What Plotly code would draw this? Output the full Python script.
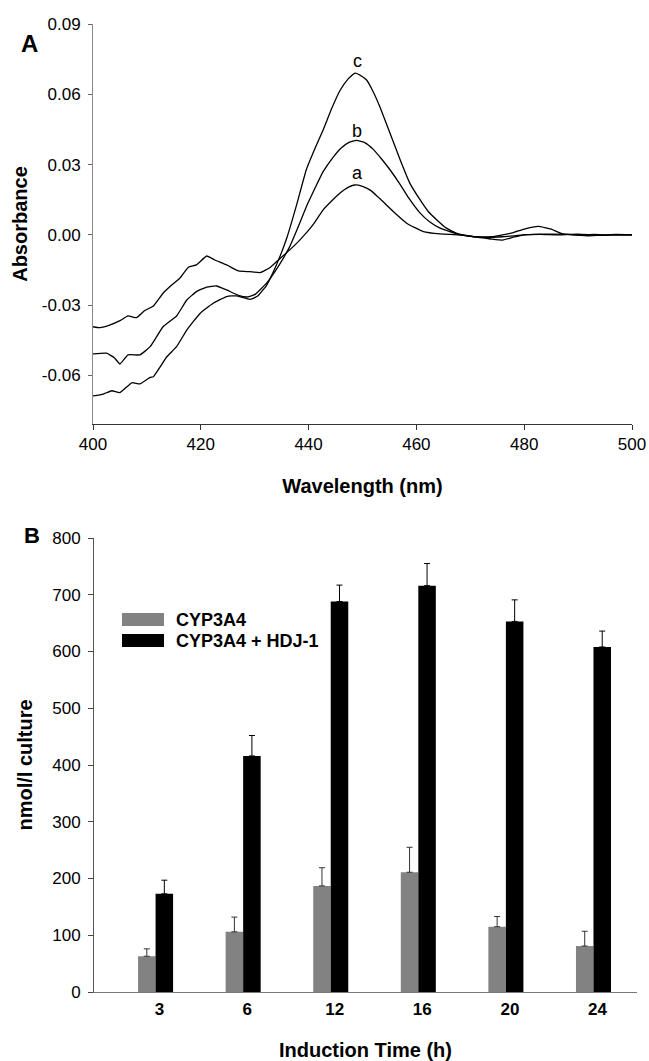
import plotly.graph_objects as go

# ---------------- Panel A data (difference spectra) ----------------
wl_a = [400, 401.3, 403.2, 405, 406.5, 408.1, 409.6, 411.2, 413, 414.6, 416.1, 417.7, 419.2,
        421.1, 422.6, 424.8, 427, 429.1, 431, 432.8, 434.5, 436.5, 438.4, 440.8, 442.7, 444.5,
        446, 447.5, 448.6, 450, 451.5, 453.2, 455.7, 458.2, 461.3, 464.4, 468, 471.5, 474, 476,
        478, 480, 483, 486, 490, 494, 497, 500]
abs_a = [-0.0392, -0.0396, -0.0384, -0.0366, -0.0346, -0.0353, -0.0323, -0.0303, -0.0249, -0.0214,
         -0.0185, -0.0138, -0.0128, -0.0090, -0.0107, -0.0128, -0.0154, -0.0157, -0.0161, -0.0140,
         -0.0105, -0.0064, -0.0021, 0.0043, 0.0107, 0.0150, 0.0182, 0.0205, 0.0213, 0.0207,
         0.0190, 0.0155, 0.0100, 0.0050, 0.0014, 0.0004, 0.0000, -0.0010, -0.0018, -0.0022,
         -0.0010, 0.0000, 0.0002, 0.0000, 0.0003, -0.0002, 0.0002, 0.0000]

wl_b = [400, 402.5, 404, 405, 406.5, 408.7, 410.6, 413, 415.5, 417.4, 419.2, 421.1, 422.9, 424.8,
        427, 428.5, 430, 432.2, 434.5, 436.5, 438, 439.6, 441.2, 442.7, 444.5, 446, 447.5, 448.9,
        450.5, 452, 453.5, 455.1, 457, 458.5, 460.7, 462.5, 464.4, 468.1, 472, 476, 480, 484,
        488, 492, 496, 500]
abs_b = [-0.0508, -0.0505, -0.0525, -0.0551, -0.0512, -0.0512, -0.0477, -0.0392, -0.0346, -0.0278,
         -0.0242, -0.0223, -0.0218, -0.0235, -0.0258, -0.0265, -0.0255, -0.0206, -0.0130, -0.0050,
         0.0030, 0.0121, 0.0200, 0.0270, 0.0330, 0.0370, 0.0395, 0.0403, 0.0393, 0.0365, 0.0325,
         0.0278, 0.0215, 0.0160, 0.0093, 0.0055, 0.0029, 0.0000, -0.0010, -0.0008, 0.0000,
         0.0003, 0.0002, -0.0004, 0.0001, 0.0000]

wl_c = [400, 401.9, 403.5, 405, 407.2, 408.7, 410.6, 411.2, 413.7, 415.5, 417.4, 419.9, 422.3,
        424.8, 426.7, 429.1, 430.5, 432.2, 434, 436, 437.8, 439.6, 441.2, 442.7, 444.3, 445.8,
        447.3, 448.6, 450, 450.8, 452, 453.2, 455, 457, 458.8, 460.7, 462.2, 463.8, 465.5, 467.5,
        470.5, 474, 476, 478, 480, 482.6, 485, 487, 490, 493, 496, 500]
abs_c = [-0.0687, -0.0679, -0.0665, -0.0673, -0.0631, -0.0636, -0.0608, -0.0605, -0.0520, -0.0477,
         -0.0406, -0.0334, -0.0292, -0.0263, -0.0260, -0.0275, -0.0262, -0.0215, -0.0130, -0.0010,
         0.0130, 0.0280, 0.0370, 0.0448, 0.0540, 0.0615, 0.0665, 0.0690, 0.0675, 0.0660, 0.0610,
         0.0548, 0.0440, 0.0320, 0.0220, 0.0149, 0.0100, 0.0064, 0.0030, 0.0007, -0.0007,
         -0.0008, 0.0000, 0.0010, 0.0025, 0.0036, 0.0025, 0.0005, 0.0000, 0.0002, -0.0001, 0.0000]

curve_labels = ["a", "b", "c"]
label_wl = [449, 449, 449]
label_abs = [0.0265, 0.0445, 0.0740]

a_ticks = [-0.06, -0.03, 0.00, 0.03, 0.06, 0.09]
a_ticktext = ["-0.06", "-0.03", "0.00", "0.03", "0.06", "0.09"]
a_xticks = [400, 420, 440, 460, 480, 500]

# ---------------- Panel B data (bars) ----------------
induction_time = ["3", "6", "12", "16", "20", "24"]
cyp3a4 = [63, 106, 187, 211, 115, 81]
cyp3a4_err = [13, 26, 32, 44, 18, 26]
cyp3a4_hdj = [173, 416, 688, 716, 653, 608]
cyp3a4_hdj_err = [24, 36, 29, 39, 38, 28]
legend_names = ["CYP3A4", "CYP3A4 + HDJ-1"]
b_ticks = [0, 100, 200, 300, 400, 500, 600, 700, 800]

FONT = "Liberation Sans, Arial, Helvetica, sans-serif"
GRAY = "#828282"

fig = go.Figure()

for wl, ab in [(wl_a, abs_a), (wl_b, abs_b), (wl_c, abs_c)]:
    fig.add_trace(go.Scatter(x=wl, y=ab, mode="lines", line=dict(color="black", width=1.3, shape="spline", smoothing=0.4),
                             showlegend=False, xaxis="x", yaxis="y", hoverinfo="skip"))

for lab, lx, ly in zip(curve_labels, label_wl, label_abs):
    fig.add_annotation(x=lx, y=ly, xref="x", yref="y", text=lab, showarrow=False,
                       font=dict(family=FONT, size=18, color="black"))

fig.add_trace(go.Bar(x=induction_time, y=cyp3a4, name=legend_names[0], marker=dict(color=GRAY, line=dict(width=0)),
                     error_y=dict(type="data", array=cyp3a4_err, arrayminus=[0] * len(cyp3a4_err), symmetric=False,
                                  color="#333333", thickness=1, width=3),
                     xaxis="x2", yaxis="y2", showlegend=False))
fig.add_trace(go.Bar(x=induction_time, y=cyp3a4_hdj, name=legend_names[1], marker=dict(color="black", line=dict(width=0)),
                     error_y=dict(type="data", array=cyp3a4_hdj_err, arrayminus=[0] * len(cyp3a4_hdj_err), symmetric=False,
                                  color="black", thickness=1, width=3),
                     xaxis="x2", yaxis="y2", showlegend=False))

# custom legend (swatches + labels) in panel B
leg_rows = [(613, 626, GRAY), (634, 647, "black")]
for (y0, y1, col), name in zip(leg_rows, legend_names):
    fig.add_shape(type="rect", xref="paper", yref="paper", x0=122 / 649, x1=164 / 649,
                  y0=1 - y1 / 1061, y1=1 - y0 / 1061, fillcolor=col, line=dict(width=0))
    fig.add_annotation(xref="paper", yref="paper", x=174 / 649, y=1 - (y0 + y1) / 2 / 1061, text="<b>%s</b>" % name,
                       showarrow=False, xanchor="left", yanchor="middle", font=dict(family=FONT, size=18, color="black"))

# panel letters
fig.add_annotation(xref="paper", yref="paper", x=19 / 649, y=1 - 28 / 1061, text="<b>A</b>", showarrow=False,
                   font=dict(family=FONT, size=24, color="black"))
fig.add_annotation(xref="paper", yref="paper", x=22 / 649, y=1 - 535 / 1061, text="<b>B</b>", showarrow=False,
                   font=dict(family=FONT, size=22, color="black"))

axis_common = dict(showgrid=False, zeroline=False, showline=True, linewidth=1, automargin=False,
                   tickfont=dict(family=FONT, size=17, color="black"))

fig.update_layout(
    width=649, height=1061, autosize=False,
    margin=dict(l=0, r=0, t=0, b=0),
    paper_bgcolor="white", plot_bgcolor="white",
    font=dict(family=FONT, color="black"),
    barmode="group", bargap=0.6, bargroupgap=0.0,
    xaxis=dict(domain=[93 / 649, 632 / 649], anchor="y", range=[400, 500], tickvals=a_xticks,
               ticks="outside", ticklen=5, tickcolor="#333", linecolor="#333",
               title=dict(text="<b>Wavelength (nm)</b>", font=dict(family=FONT, size=20), standoff=25),
               **axis_common),
    yaxis=dict(domain=[1 - 424 / 1061, 1 - 24 / 1061], anchor="x", range=[-0.0807, 0.09], tickvals=a_ticks,
               ticktext=a_ticktext, ticks="outside", ticklen=4, tickcolor="#666", linecolor="#888",
               ticklabelstandoff=4,
               title=dict(text="<b>Absorbance</b>", font=dict(family=FONT, size=20), standoff=8),
               **axis_common),
    xaxis2=dict(domain=[94 / 649, 637 / 649], anchor="y2", type="category", range=[-0.703, 5.497],
                ticks="", linecolor="#777", ticklabelstandoff=2, ticklabelshift=4,
                tickfont=dict(family=FONT, size=17, color="black", weight="bold"),
                title=dict(text="<b>Induction Time (h)</b>", font=dict(family=FONT, size=20), standoff=30),
                showgrid=False, zeroline=False, showline=True, linewidth=1, automargin=False),
    yaxis2=dict(domain=[1 - 992 / 1061, 1 - 538 / 1061], anchor="x2", range=[0, 800], tickvals=b_ticks,
                ticks="outside", ticklen=5, tickcolor="#444", linecolor="#555",
                ticklabelstandoff=4,
                title=dict(text="<b>nmol/l culture</b>", font=dict(family=FONT, size=20), standoff=14),
                **axis_common),
)

fig.write_html("out.html", config={"displayModeBar": False},
               post_script="document.body.style.margin='0';document.body.style.padding='0';")
